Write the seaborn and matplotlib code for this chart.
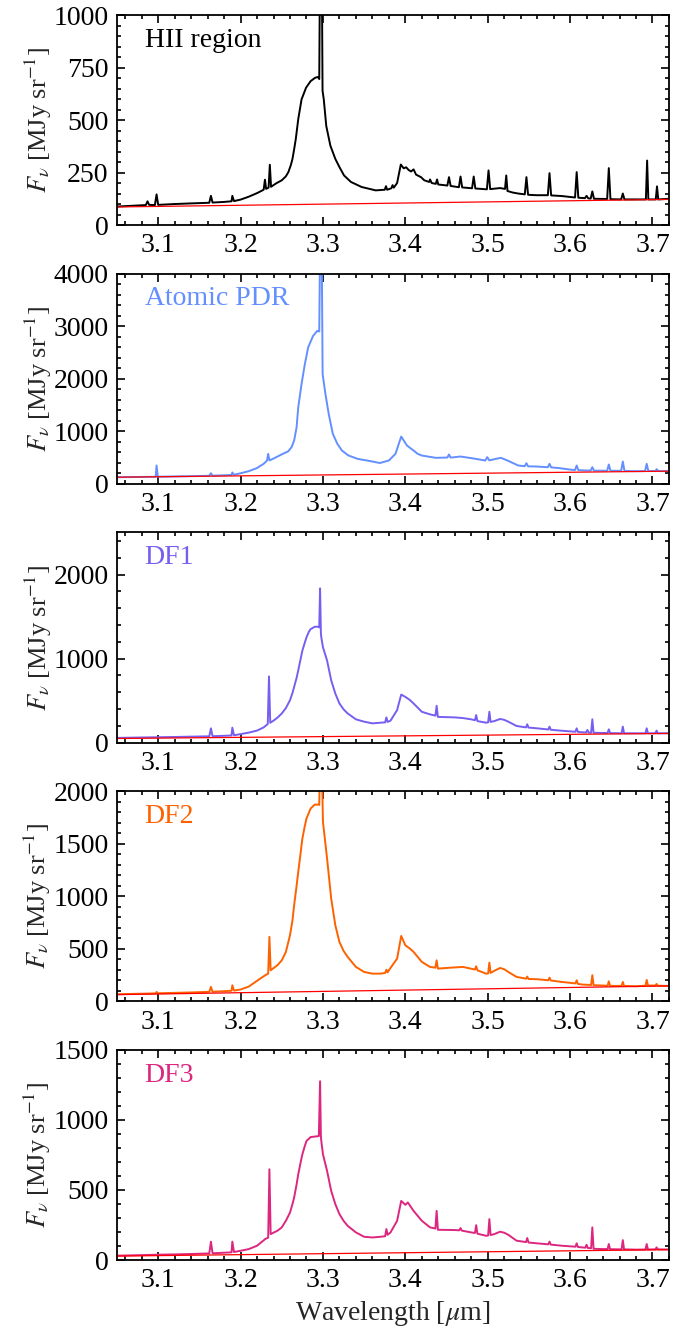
import matplotlib

matplotlib.use("Agg")
import matplotlib.pyplot as plt
import numpy as np
import seaborn as sns
from matplotlib.ticker import AutoMinorLocator, MultipleLocator

sns.set_theme(style="ticks")
plt.rcParams["font.family"] = ["Liberation Serif", "DejaVu Serif"]
plt.rcParams["mathtext.fontset"] = "stix"

# (wavelength [um], F_nu [MJy/sr])
HII_SPEC = [
    (3.050, 88), (3.070, 92), (3.085, 95), (3.087, 113), (3.089, 96), (3.096, 95),
    (3.098, 146), (3.100, 96), (3.120, 100), (3.140, 103), (3.162, 106), (3.164, 139),
    (3.166, 107), (3.180, 110), (3.189, 113), (3.190, 139), (3.192, 114), (3.200, 121),
    (3.210, 135), (3.220, 152), (3.228, 168), (3.2296, 216), (3.231, 172), (3.234, 178),
    (3.2355, 287), (3.237, 182), (3.243, 198), (3.250, 213), (3.255, 232), (3.258, 252),
    (3.261, 285), (3.263, 315), (3.265, 360), (3.267, 409), (3.270, 504), (3.274, 598),
    (3.2795, 654), (3.285, 685), (3.2904, 701), (3.294, 705), (3.2955, 695),
    (3.2965, 1300), (3.2985, 1300), (3.2995, 640), (3.301, 598), (3.304, 472),
    (3.309, 378), (3.315, 315), (3.320, 276), (3.3256, 236), (3.334, 205), (3.347, 181),
    (3.364, 165), (3.375, 168), (3.3765, 185), (3.378, 168), (3.383, 175), (3.3845, 190),
    (3.386, 178), (3.390, 200), (3.3945, 288), (3.398, 270), (3.401, 275), (3.404, 262),
    (3.407, 255), (3.410, 265), (3.413, 240), (3.419, 228), (3.423, 213), (3.429, 205),
    (3.430, 217), (3.432, 200), (3.437, 196), (3.4385, 217), (3.440, 193), (3.451, 188),
    (3.453, 228), (3.455, 186), (3.465, 180), (3.467, 231), (3.469, 179), (3.481, 175),
    (3.483, 231), (3.485, 174), (3.499, 170), (3.501, 260), (3.503, 171), (3.515, 176),
    (3.521, 172), (3.5225, 236), (3.524, 162), (3.530, 155), (3.537, 150), (3.545, 146),
    (3.547, 228), (3.549, 144), (3.559, 142), (3.573, 142), (3.575, 247), (3.577, 141),
    (3.590, 138), (3.606, 131), (3.608, 252), (3.610, 130), (3.618, 128), (3.620, 139),
    (3.622, 127), (3.625, 126), (3.627, 160), (3.629, 125), (3.645, 124), (3.647, 271),
    (3.649, 123), (3.662, 122), (3.664, 150), (3.666, 122), (3.680, 122), (3.692, 122),
    (3.6935, 307), (3.695, 122), (3.704, 122), (3.7055, 184), (3.707, 122), (3.720, 125),
]

PDR_SPEC = [
    (3.050, 125), (3.080, 130), (3.097, 133), (3.098, 348), (3.0995, 134), (3.120, 140),
    (3.140, 145), (3.162, 152), (3.164, 200), (3.166, 154), (3.180, 162), (3.189, 168),
    (3.190, 215), (3.192, 172), (3.200, 200), (3.210, 240), (3.220, 300), (3.228, 380),
    (3.232, 440), (3.2335, 570), (3.235, 445), (3.240, 480), (3.250, 560), (3.258, 620),
    (3.262, 700), (3.265, 823), (3.268, 1076), (3.270, 1456), (3.274, 1899),
    (3.278, 2278), (3.282, 2595), (3.288, 2816), (3.293, 2911), (3.2955, 2900),
    (3.2965, 4500), (3.2985, 4500), (3.2996, 2089), (3.303, 1709), (3.307, 1329),
    (3.312, 950), (3.3175, 760), (3.323, 633), (3.331, 538), (3.342, 475), (3.358, 430),
    (3.369, 395), (3.380, 443), (3.388, 570), (3.395, 899), (3.402, 728), (3.410, 633),
    (3.415, 570), (3.420, 538), (3.437, 494), (3.451, 500), (3.453, 557), (3.455, 498),
    (3.467, 519), (3.483, 481), (3.497, 443), (3.4995, 506), (3.502, 445), (3.510, 475),
    (3.516, 494), (3.524, 443), (3.537, 348), (3.545, 335), (3.547, 392), (3.549, 332),
    (3.559, 329), (3.573, 315), (3.575, 380), (3.577, 312), (3.586, 300), (3.602, 266),
    (3.606, 262), (3.608, 348), (3.610, 260), (3.619, 253), (3.625, 252), (3.627, 316),
    (3.629, 250), (3.635, 250), (3.645, 248), (3.647, 367), (3.649, 248), (3.657, 248),
    (3.662, 246), (3.664, 424), (3.666, 245), (3.678, 240), (3.691, 242), (3.693, 380),
    (3.695, 242), (3.704, 242), (3.705, 278), (3.707, 242), (3.720, 240),
]

DF1_SPEC = [
    (3.050, 55), (3.080, 60), (3.100, 63), (3.120, 66), (3.140, 70), (3.162, 74),
    (3.164, 169), (3.166, 75), (3.180, 80), (3.189, 84), (3.190, 177), (3.192, 86),
    (3.200, 100), (3.210, 118), (3.220, 142), (3.228, 180), (3.233, 220), (3.2345, 787),
    (3.236, 235), (3.240, 260), (3.245, 298), (3.250, 346), (3.255, 410), (3.260, 504),
    (3.263, 590), (3.265, 661), (3.268, 770), (3.270, 858), (3.273, 1000), (3.275, 1094),
    (3.278, 1190), (3.280, 1252), (3.283, 1320), (3.285, 1350), (3.290, 1378),
    (3.294, 1378), (3.2955, 1370), (3.2965, 1835), (3.2975, 1300), (3.298, 1252),
    (3.300, 1134), (3.305, 976), (3.310, 740), (3.315, 583), (3.320, 465), (3.325, 395),
    (3.330, 346), (3.340, 276), (3.350, 248), (3.360, 228), (3.370, 236), (3.3755, 240),
    (3.377, 299), (3.3785, 245), (3.382, 260), (3.390, 386), (3.395, 571), (3.400, 543),
    (3.405, 510), (3.410, 465), (3.420, 366), (3.430, 335), (3.4365, 320), (3.438, 437),
    (3.4395, 305), (3.460, 299), (3.470, 291), (3.480, 276), (3.4845, 265), (3.486, 327),
    (3.4875, 255), (3.498, 236), (3.5005, 240), (3.502, 366), (3.5035, 245), (3.508, 255),
    (3.515, 280), (3.520, 270), (3.525, 248), (3.535, 197), (3.5465, 180), (3.548, 217),
    (3.5495, 178), (3.560, 169), (3.5735, 155), (3.575, 189), (3.5765, 152),
    (3.590, 140), (3.6065, 128), (3.608, 169), (3.6095, 126), (3.615, 122),
    (3.6195, 120), (3.621, 150), (3.6225, 118), (3.6255, 117), (3.627, 276),
    (3.6285, 116), (3.640, 114), (3.6455, 113), (3.647, 157), (3.6485, 112),
    (3.6625, 110), (3.664, 189), (3.6655, 110), (3.680, 110), (3.6915, 110),
    (3.693, 169), (3.6945, 110), (3.7035, 110), (3.705, 142), (3.7065, 110), (3.720, 110),
]

DF2_SPEC = [
    (3.050, 67), (3.080, 72), (3.097, 75), (3.098, 89), (3.0995, 76), (3.120, 80),
    (3.140, 84), (3.162, 90), (3.164, 137), (3.166, 91), (3.180, 96), (3.189, 100),
    (3.190, 152), (3.192, 102), (3.200, 112), (3.210, 140), (3.220, 195), (3.230, 248),
    (3.2335, 263), (3.235, 613), (3.2365, 295), (3.245, 345), (3.250, 390), (3.255, 470),
    (3.260, 629), (3.263, 770), (3.265, 914), (3.268, 1100), (3.270, 1232),
    (3.273, 1420), (3.275, 1549), (3.278, 1670), (3.280, 1740), (3.285, 1835),
    (3.290, 1873), (3.294, 1873), (3.2955, 1870), (3.2965, 2300), (3.2985, 2300),
    (3.300, 1708), (3.305, 1359), (3.310, 978), (3.315, 724), (3.320, 565), (3.325, 480),
    (3.330, 422), (3.340, 327), (3.350, 279), (3.360, 263), (3.370, 263), (3.3755, 270),
    (3.377, 300), (3.3785, 275), (3.380, 295), (3.390, 406), (3.395, 622), (3.400, 533),
    (3.405, 505), (3.410, 470), (3.420, 375), (3.430, 327), (3.4365, 320), (3.438, 390),
    (3.4395, 311), (3.455, 320), (3.470, 327), (3.4845, 302), (3.486, 333),
    (3.4875, 295), (3.498, 263), (3.5005, 265), (3.502, 368), (3.5035, 270),
    (3.508, 290), (3.515, 317), (3.520, 305), (3.525, 279), (3.535, 232), (3.5465, 215),
    (3.548, 235), (3.5495, 212), (3.560, 210), (3.5735, 200), (3.575, 225),
    (3.5765, 198), (3.590, 184), (3.6065, 170), (3.608, 200), (3.6095, 165),
    (3.615, 159), (3.6255, 155), (3.627, 248), (3.6285, 153), (3.640, 150),
    (3.6455, 148), (3.647, 190), (3.6485, 147), (3.6625, 146), (3.664, 184),
    (3.6655, 146), (3.680, 143), (3.6915, 148), (3.693, 203), (3.6945, 150),
    (3.7035, 150), (3.705, 165), (3.7065, 148), (3.720, 146),
]

DF3_SPEC = [
    (3.050, 31), (3.080, 35), (3.100, 38), (3.120, 40), (3.140, 43), (3.162, 47),
    (3.164, 131), (3.166, 48), (3.180, 52), (3.189, 55), (3.190, 131), (3.192, 57),
    (3.200, 66), (3.210, 78), (3.220, 102), (3.230, 150), (3.2335, 160), (3.235, 648),
    (3.2365, 185), (3.245, 210), (3.250, 233), (3.255, 280), (3.260, 339), (3.263, 400),
    (3.265, 446), (3.268, 540), (3.270, 612), (3.273, 700), (3.275, 755), (3.278, 815),
    (3.280, 850), (3.285, 878), (3.292, 883), (3.295, 885), (3.2965, 1277),
    (3.2975, 880), (3.298, 850), (3.300, 755), (3.305, 636), (3.310, 494), (3.315, 399),
    (3.320, 328), (3.325, 280), (3.330, 244), (3.340, 197), (3.350, 166), (3.360, 161),
    (3.370, 166), (3.3755, 170), (3.377, 221), (3.3785, 180), (3.382, 197), (3.390, 280),
    (3.395, 422), (3.400, 394), (3.403, 411), (3.410, 351), (3.420, 280), (3.430, 233),
    (3.4365, 225), (3.438, 351), (3.4395, 216), (3.460, 214), (3.4655, 212),
    (3.467, 228), (3.4685, 210), (3.480, 197), (3.4845, 193), (3.486, 249),
    (3.4875, 188), (3.498, 173), (3.5005, 175), (3.502, 292), (3.5035, 178),
    (3.508, 185), (3.515, 202), (3.520, 195), (3.525, 180), (3.535, 138), (3.5465, 128),
    (3.548, 157), (3.5495, 125), (3.560, 119), (3.5735, 112), (3.575, 131),
    (3.5765, 110), (3.590, 102), (3.6065, 95), (3.608, 119), (3.6095, 93), (3.615, 90),
    (3.6185, 88), (3.620, 109), (3.6215, 86), (3.6255, 84), (3.627, 233), (3.6285, 80),
    (3.640, 78), (3.6455, 78), (3.647, 114), (3.6485, 77), (3.6625, 76), (3.664, 142),
    (3.6655, 76), (3.680, 74), (3.6915, 75), (3.693, 114), (3.6945, 75), (3.7035, 76),
    (3.705, 90), (3.7065, 76), (3.720, 75),
]

# linear continuum (endpoints)
CONT_WAVE = [3.05, 3.72]
HII_CONT = [86, 122]
PDR_CONT = [125, 240]
DF1_CONT = [48, 108]
DF2_CONT = [63, 146]
DF3_CONT = [28, 74]

REGIONS = ["HII region", "Atomic PDR", "DF1", "DF2", "DF3"]
COLORS = ["black", "#648FFF", "#785EF0", "#FE6100", "#DC267F"]
SPECTRA = [HII_SPEC, PDR_SPEC, DF1_SPEC, DF2_SPEC, DF3_SPEC]
CONTINUA = [HII_CONT, PDR_CONT, DF1_CONT, DF2_CONT, DF3_CONT]
YLIMS = [1000, 4000, 2500, 2000, 1500]
YSTEPS = [250, 1000, 1000, 500, 500]

fig, axes = plt.subplots(5, 1, figsize=(6.99, 13.28), dpi=100)
fig.subplots_adjust(left=0.1674, right=0.957, top=0.9887, bottom=0.0512, hspace=0.232)

for ax, name, color, spec, cont, ymax, ystep in zip(
    axes, REGIONS, COLORS, SPECTRA, CONTINUA, YLIMS, YSTEPS
):
    wave, flux = np.array(spec).T
    sns.lineplot(x=wave, y=flux, ax=ax, color=color, linewidth=1.4,
                 estimator=None, sort=False)
    sns.lineplot(x=CONT_WAVE, y=cont, ax=ax, color="red", linewidth=0.9,
                 estimator=None, sort=False)

    ax.set_xlim(3.05, 3.72)
    ax.set_ylim(0, ymax)
    ax.yaxis.set_major_locator(MultipleLocator(ystep))
    ax.yaxis.set_minor_locator(AutoMinorLocator(5))
    ax.xaxis.set_major_locator(MultipleLocator(0.1))
    ax.xaxis.set_minor_locator(MultipleLocator(0.02))
    ax.tick_params(which="both", direction="in", top=True, right=True,
                   labelsize=20, width=1.2, colors="black")
    ax.tick_params(which="major", length=6, pad=6)
    ax.tick_params(which="minor", length=3)
    for sp in ax.spines.values():
        sp.set_linewidth(1.3)
        sp.set_color("black")
    ax.set_ylabel(r"$F_\nu$ [MJy sr$^{-1}$]", fontsize=19, labelpad=0)
    ax.set_xlabel("")
    ax.text(0.05, 0.94, name, transform=ax.transAxes, color=color,
            fontsize=20, ha="left", va="top")

axes[-1].set_xlabel(r"Wavelength [$\mu$m]", fontsize=20)

fig.savefig("out.png", dpi=100)
plt.close(fig)
